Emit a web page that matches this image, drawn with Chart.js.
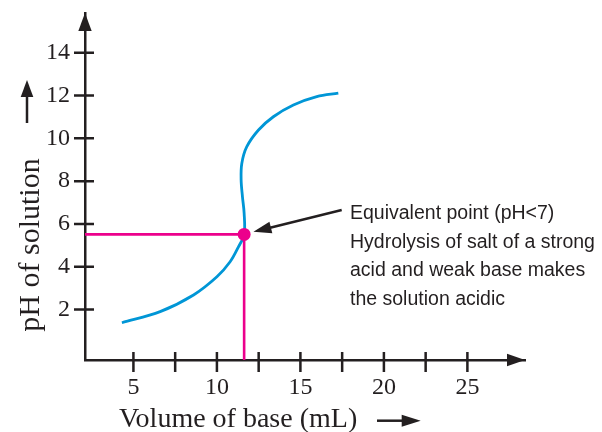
<!DOCTYPE html>
<html>
<head>
<meta charset="utf-8">
<script src="https://cdn.jsdelivr.net/npm/chart.js@4"></script>
<style>
  html, body { margin: 0; padding: 0; background: #fff; }
  canvas { display: block; }
</style>
</head>
<body>
<canvas id="titration" width="602" height="432"></canvas>
<script>
// titration curve (volume in mL, pH)
const volume = [4.31, 6.60, 8.60, 10.00, 10.79, 11.29, 11.63, 11.63, 11.53, 11.45, 11.49, 11.79, 12.49, 13.38, 14.58, 15.98, 17.27];
const pH     = [1.38, 1.90, 2.68, 3.53, 4.23, 4.93, 5.51, 6.50, 7.27, 8.05, 8.83, 9.61, 10.39, 11.01, 11.56, 11.95, 12.11];

// equivalence point
const eqVolume = 11.63;
const eqPH = 5.51;

const xTicks = [5, 7.5, 10, 12.5, 15, 17.5, 20, 22.5, 25];
const xTickLabels = ['5', '', '10', '', '15', '', '20', '', '25'];
const yTicks = [2, 4, 6, 8, 10, 12, 14];

const xTitle = 'Volume of base (mL)';
const yTitle = 'pH of solution';
const noteLines = [
  'Equivalent point (pH<7)',
  'Hydrolysis of salt of a strong',
  'acid and weak base makes',
  'the solution acidic',
];

const ink = '#231f20';
const blue = '#0096d6';
const magenta = '#ec008c';

function arrowHead(ctx, tx, ty, angle, len, half) {
  ctx.save();
  ctx.translate(tx, ty);
  ctx.rotate(angle);
  ctx.beginPath();
  ctx.moveTo(0, 0);
  ctx.lineTo(-len, -half);
  ctx.lineTo(-len, half);
  ctx.closePath();
  ctx.fill();
  ctx.restore();
}

const decor = {
  id: 'decor',
  beforeDatasetsDraw(chart) {
    const { ctx, chartArea: a, scales: { x, y } } = chart;
    const px = x.getPixelForValue(eqVolume);
    const py = y.getPixelForValue(eqPH);
    ctx.save();
    ctx.strokeStyle = magenta;
    ctx.lineWidth = 2.6;
    ctx.beginPath();
    ctx.moveTo(a.left, py);
    ctx.lineTo(px, py);
    ctx.lineTo(px, a.bottom);
    ctx.stroke();
    ctx.restore();
  },
  afterDraw(chart) {
    const { ctx, chartArea: a, scales: { x, y } } = chart;
    ctx.save();
    ctx.strokeStyle = ink;
    ctx.fillStyle = ink;
    ctx.lineWidth = 2.5;

    // tick marks crossing the axes
    ctx.beginPath();
    x.ticks.forEach(t => {
      const X = x.getPixelForValue(t.value);
      ctx.moveTo(X, a.bottom - 8);
      ctx.lineTo(X, a.bottom + 12);
    });
    y.ticks.forEach(t => {
      const Y = y.getPixelForValue(t.value);
      ctx.moveTo(a.left - 11, Y);
      ctx.lineTo(a.left + 9, Y);
    });
    ctx.stroke();

    // axis arrow heads
    arrowHead(ctx, a.left, a.top, -Math.PI / 2, 18, 6.7);
    arrowHead(ctx, a.right, a.bottom, 0, 18, 6.3);

    // axis titles
    ctx.font = '28px "Liberation Serif"';
    ctx.textAlign = 'left';
    ctx.textBaseline = 'alphabetic';
    ctx.fillText(xTitle, 119, 427);
    ctx.beginPath();
    ctx.moveTo(377, 420.7);
    ctx.lineTo(408, 420.7);
    ctx.stroke();
    arrowHead(ctx, 420.7, 420.7, 0, 19, 6);

    ctx.save();
    ctx.translate(39, 245);
    ctx.rotate(-Math.PI / 2);
    ctx.font = '30px "Liberation Serif"';
    ctx.textAlign = 'center';
    ctx.fillText(yTitle, 0, 0);
    ctx.restore();
    ctx.beginPath();
    ctx.moveTo(27, 123);
    ctx.lineTo(27, 92);
    ctx.stroke();
    arrowHead(ctx, 27, 80, -Math.PI / 2, 17, 6.3);

    // note arrow pointing at the equivalence point
    const px = x.getPixelForValue(eqVolume);
    const py = y.getPixelForValue(eqPH);
    const tipX = px + 9.3, tipY = py - 2.6;
    const tailX = 341.7, tailY = 210;
    const ang = Math.atan2(tipY - tailY, tipX - tailX);
    ctx.beginPath();
    ctx.moveTo(tailX, tailY);
    ctx.lineTo(tipX - 14 * Math.cos(ang), tipY - 14 * Math.sin(ang));
    ctx.stroke();
    arrowHead(ctx, tipX, tipY, ang, 18, 6);

    ctx.font = '19.5px "Liberation Sans"';
    ctx.textAlign = 'left';
    noteLines.forEach((line, i) => ctx.fillText(line, 350, 219 + i * 28.7));
    ctx.restore();
  }
};

const chart = new Chart(document.getElementById('titration'), {
  type: 'scatter',
  data: {
    datasets: [
      {
        data: volume.map((v, i) => ({ x: v, y: pH[i] })),
        showLine: true,
        borderColor: blue,
        borderWidth: 2.8,
        tension: 0.35,
        pointRadius: 0,
        order: 2,
      },
      {
        data: [{ x: eqVolume, y: eqPH }],
        pointRadius: 6.5,
        pointBackgroundColor: magenta,
        pointBorderColor: magenta,
        pointBorderWidth: 0,
        order: 1,
      },
    ],
  },
  options: {
    responsive: false,
    animation: false,
    devicePixelRatio: 1,
    layout: { padding: { top: 13, right: 77, left: 0, bottom: 0 } },
    plugins: { legend: { display: false }, tooltip: { enabled: false } },
    scales: {
      x: {
        type: 'linear',
        min: 2.1,
        max: 28.45,
        afterFit(scale) {
          scale.height = 72;
          scale.paddingLeft = 0;
          scale.paddingRight = 0;
        },
        afterBuildTicks(scale) { scale.ticks = xTicks.map(v => ({ value: v })); },
        grid: { display: false, drawTicks: false },
        border: { display: true, color: ink, width: 2.5 },
        ticks: {
          autoSkip: false,
          maxRotation: 0,
          padding: 13,
          color: ink,
          font: { family: 'Liberation Serif', size: 24 },
          callback: (value, index) => xTickLabels[index],
        },
      },
      y: {
        type: 'linear',
        min: -0.36,
        max: 15.86,
        afterFit(scale) {
          scale.width = 85;
          scale.paddingTop = 0;
          scale.paddingBottom = 0;
        },
        afterBuildTicks(scale) { scale.ticks = yTicks.map(v => ({ value: v })); },
        grid: { display: false, drawTicks: false },
        border: { display: true, color: ink, width: 2.5 },
        ticks: {
          autoSkip: false,
          padding: 15,
          color: ink,
          font: { family: 'Liberation Serif', size: 24 },
        },
      },
    },
  },
  plugins: [decor],
});
</script>
</body>
</html>
